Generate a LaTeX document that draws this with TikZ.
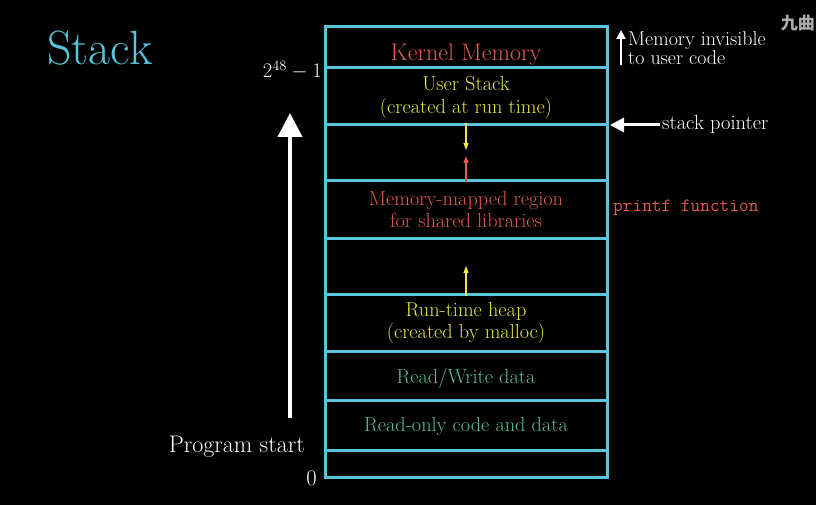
\documentclass[tikz,border=0pt]{standalone}
\usepackage{fontspec}
\newfontfamily\cjk{Noto Sans CJK SC}
\usetikzlibrary{arrows.meta}
\definecolor{mblue}{HTML}{58C4DD}
\definecolor{mred}{HTML}{E35B50}
\definecolor{myellow}{HTML}{E8E84C}
\definecolor{mgreen}{HTML}{5CC097}
\definecolor{wm}{gray}{0.68}
\tikzset{
  region/.style={draw=mblue, line width=3pt, minimum width=282pt, inner sep=0pt},
  rtext/.style={inner sep=0pt, align=center, font=\fontsize{20.3}{22.5}\selectfont},
  lbl/.style={text=white, inner sep=0pt},
  bigarrow/.style={draw=white, line width=4pt, -{Triangle[length=24pt,width=24pt]}},
  smallarrow/.style={line width=1.2pt, -{Triangle[length=7pt,width=5pt]}}
}
\begin{document}
\begin{tikzpicture}[x=1pt,y=-1pt]
\clip (0,0) rectangle (816,505);
\fill[black] (0,0) rectangle (816,505);
% regions
\node[region, minimum height=41pt] (kern) at (466,47.5) {};
\node[region, minimum height=57pt] (ustack) at (466,96.5) {};
\node[region, minimum height=56pt] (gap1) at (466,153) {};
\node[region, minimum height=57pt] (mmap) at (466,209.5) {};
\node[region, minimum height=56pt] (gap2) at (466,266) {};
\node[region, minimum height=57pt] (heap) at (466,322.5) {};
\node[region, minimum height=49pt] (rw) at (466,375.5) {};
\node[region, minimum height=50pt] (ro) at (466,425) {};
\node[region, minimum height=27pt] (bottom) at (466,463.5) {};
% region texts
\node[rtext, text=mred, font=\fontsize{24}{26}\selectfont] (kerntxt) at (466,55) {Kernel Memory};
\node[rtext, text=myellow] (ustacktxt) at (466,97.5) {User Stack\\(created at run time)};
\node[rtext, text=mred] (mmaptxt) at (466,209.5) {Memory-mapped region\\for shared libraries};
\node[rtext, text=myellow] (heaptxt) at (466,323) {Run-time heap\\(created by malloc)};
\node[rtext, text=mgreen] (rwtxt) at (466,378) {Read/Write data};
\node[rtext, text=mgreen] (rotxt) at (466,427) {Read-only code and data};
% small arrows
\coordinate (ya1) at (466,150);
\coordinate (ra1) at (466,156);
\coordinate (ya2) at (466,266);
\draw[smallarrow, draw=myellow, fill=myellow] (gap1.north) -- (ya1);
\draw[smallarrow, draw=mred, fill=mred] (gap1.south) -- (ra1);
\draw[smallarrow, draw=myellow, fill=myellow] (gap2.south) -- (ya2);
% title
\node[text=mblue, font=\fontsize{48}{50}\selectfont, anchor=west, inner sep=0pt] (title) at (47,48) {Stack};
% address labels
\node[lbl, anchor=east, font=\fontsize{22.5}{24}\selectfont] (top) at (322,70) {$2^{48}-1$};
\node[lbl, anchor=east, font=\fontsize{22.5}{24}\selectfont] (zero) at (317,478) {0};
\node[lbl, anchor=east, font=\fontsize{24}{26}\selectfont] (pstart) at (305,447) {Program start};
% big arrow
\coordinate (bigfrom) at (290,418);
\coordinate (bigto) at (290,113);
\draw[bigarrow] (bigfrom) -- (bigto);
% right side labels
\coordinate (invfrom) at (621,65);
\coordinate (invto) at (621,30);
\draw[draw=white, line width=2.5pt, -{Triangle[length=9pt,width=9pt]}] (invfrom) -- (invto);
\node[lbl, anchor=north west, align=left, font=\fontsize{20}{16}\selectfont] (inv) at (628,31) {Memory invisible\\to user code};
\node[lbl, anchor=west, font=\fontsize{20.5}{22}\selectfont] (sp) at (662,124) {stack pointer};
\coordinate (spfrom) at (660,125);
\coordinate (spto) at (610,125);
\draw[draw=white, line width=3pt, -{Triangle[length=14pt,width=14pt]}] (spfrom) -- (spto);
\node[text=mred, anchor=west, inner sep=0pt, font=\fontsize{18.8}{20}\ttfamily] (printf) at (613,208) {printf function};
% watermark
\node[text=wm, anchor=east, inner sep=0pt, font=\fontsize{17}{20}\cjk\bfseries] (wmk) at (815,23) {九曲};
\end{tikzpicture}
\end{document}
